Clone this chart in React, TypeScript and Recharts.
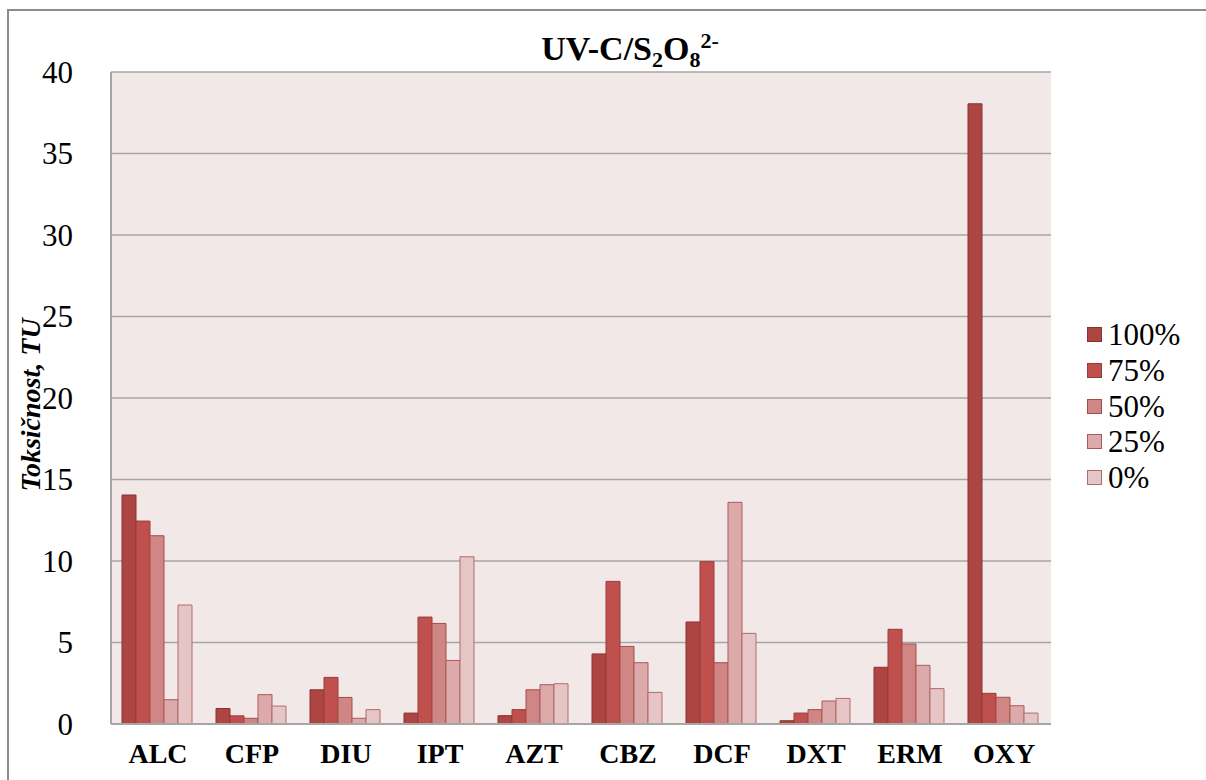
import React from 'react';
import { Bar, BarChart, CartesianGrid, Customized, Legend, XAxis, YAxis } from 'recharts';

const categories = ['ALC', 'CFP', 'DIU', 'IPT', 'AZT', 'CBZ', 'DCF', 'DXT', 'ERM', 'OXY'];
const s100 = [14.05, 0.95, 2.1, 0.67, 0.51, 4.3, 6.26, 0.2, 3.48, 38.05];
const s75 = [12.45, 0.5, 2.86, 6.56, 0.88, 8.75, 9.96, 0.67, 5.81, 1.88];
const s50 = [11.55, 0.35, 1.63, 6.17, 2.1, 4.76, 3.76, 0.88, 4.91, 1.64];
const s25 = [1.49, 1.8, 0.35, 3.9, 2.41, 3.76, 13.6, 1.41, 3.6, 1.12];
const s0 = [7.3, 1.1, 0.88, 10.26, 2.47, 1.94, 5.56, 1.57, 2.17, 0.67];
const yTicks = [0, 5, 10, 15, 20, 25, 30, 35, 40];

const series = [
  { key: 's100', name: '100%', fill: '#ad4643', stroke: '#8a3330' },
  { key: 's75', name: '75%', fill: '#c0504d', stroke: '#9a3a37' },
  { key: 's50', name: '50%', fill: '#cf8684', stroke: '#a54c4a' },
  { key: 's25', name: '25%', fill: '#dcaaaa', stroke: '#ab5a59' },
  { key: 's0', name: '0%', fill: '#e6c5c6', stroke: '#b06c6a' },
];

const data = categories.map((c, i) => ({
  name: c,
  s100: s100[i],
  s75: s75[i],
  s50: s50[i],
  s25: s25[i],
  s0: s0[i],
}));

const FONT = '"Liberation Serif", "Times New Roman", serif';

const YTick = ({ x, y, payload }: any) => (
  <text x={x} y={y} textAnchor="end" dominantBaseline="central" style={{ fontFamily: FONT, fontSize: 31 }} fill="#000">
    {payload.value}
  </text>
);

const XTick = ({ x, y, payload }: any) => (
  <text x={x} y={y + 27} textAnchor="middle" dominantBaseline="central" style={{ fontFamily: FONT, fontSize: 28, fontWeight: 'bold' }} fill="#000">
    {payload.value}
  </text>
);

const renderTitle = () => (
  <g>
    <text x={621} y={49} textAnchor="middle" style={{ fontFamily: FONT, fontWeight: 'bold', fontSize: 34 }} fill="#000">
      UV-C/S<tspan dy={7} fontSize={22}>2</tspan>
      <tspan dy={-7}>O</tspan>
      <tspan dy={7} fontSize={22}>8</tspan>
      <tspan dy={-19} fontSize={22}>2-</tspan>
    </text>
    <text
      x={0}
      y={0}
      transform="translate(31, 394) rotate(-90)"
      textAnchor="middle"
      style={{ fontFamily: FONT, fontStyle: 'italic', fontWeight: 'bold', fontSize: 28 }}
      fill="#000"
    >
      Toksičnost, TU
    </text>
  </g>
);

const renderLegend = () => (
  <div style={{ paddingLeft: 36, fontFamily: FONT, fontSize: 31, color: '#000' }}>
    {series.map((s) => (
      <div key={s.key} style={{ display: 'flex', alignItems: 'center', height: 35.7 }}>
        <span
          style={{
            display: 'inline-block',
            width: 13,
            height: 13,
            background: s.fill,
            border: `1px solid ${s.stroke}`,
            marginRight: 6,
          }}
        />
        <span style={{ lineHeight: '35px' }}>{s.name}</span>
      </div>
    ))}
  </div>
);

export default function App() {
  return (
    <div
      style={{
        position: 'absolute',
        left: 7,
        top: 9,
        width: 1199,
        height: 771,
        border: '2px solid #8c8c8c',
        background: '#fff',
      }}
    >
      <BarChart
        width={1195}
        height={769}
        data={data}
        margin={{ top: 61, right: 3, left: 42, bottom: 16 }}
        barCategoryGap={11}
        barGap={0}
      >
        <CartesianGrid vertical={false} stroke="#a6a6a6" strokeWidth={1.5} fill="#f2e8e8" />
        <XAxis
          dataKey="name"
          interval={0}
          height={40}
          tickSize={0}
          axisLine={{ stroke: '#a6a6a6', strokeWidth: 2 }}
          tick={<XTick />}
        />
        <YAxis
          width={60}
          domain={[0, 40]}
          ticks={yTicks}
          interval={0}
          tickSize={0}
          tickMargin={38}
          axisLine={{ stroke: '#a6a6a6', strokeWidth: 2 }}
          tick={<YTick />}
        />
        <Legend
          layout="vertical"
          align="right"
          verticalAlign="top"
          content={renderLegend}
          wrapperStyle={{ width: 150, top: 306, right: 3 }}
        />
        {series.map((s) => (
          <Bar
            key={s.key}
            dataKey={s.key}
            name={s.name}
            fill={s.fill}
            stroke={s.stroke}
            strokeWidth={1}
            isAnimationActive={false}
          />
        ))}
        <Customized component={renderTitle} />
      </BarChart>
    </div>
  );
}
